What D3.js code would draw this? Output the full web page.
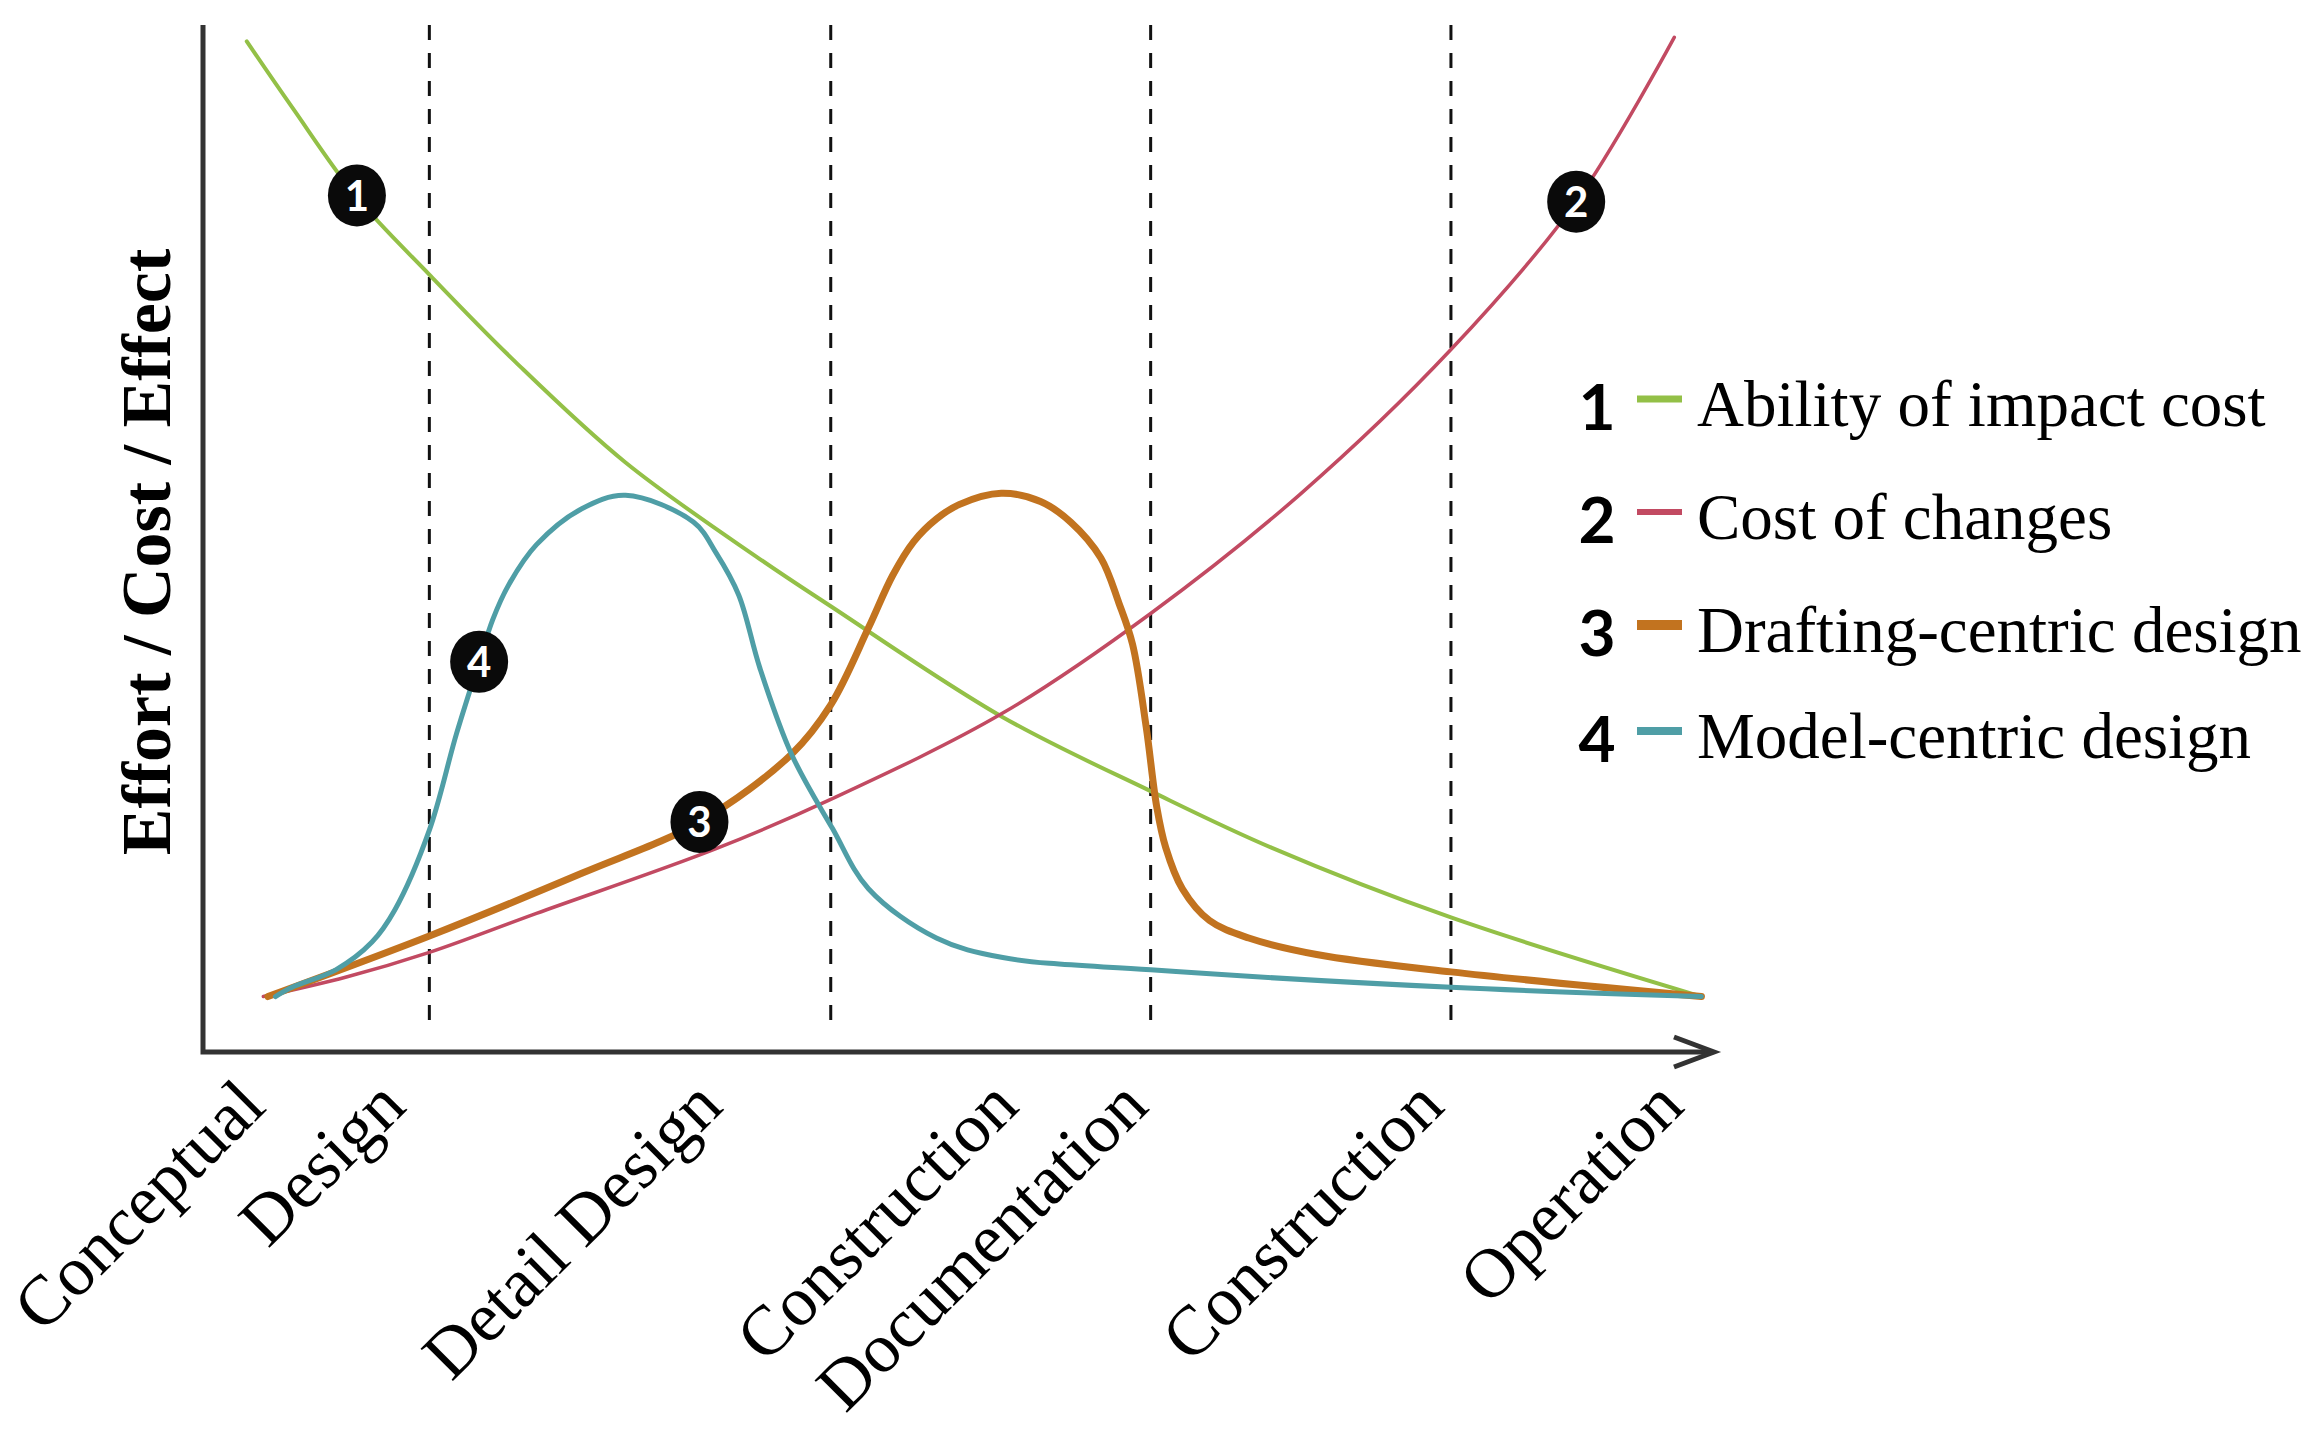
<!DOCTYPE html>
<html lang="en">
<head>
  <meta charset="UTF-8">
  <style>
    body { margin: 0; background: #fff; }
    svg { display: block; }
    .axis-line { stroke: #333; stroke-width: 5; fill: none; }
    .phase { stroke: #111; stroke-width: 3; stroke-dasharray: 15 13; }
    .curve { fill: none; stroke-linejoin: round; stroke-linecap: round; }
    .stage { font-family: "Liberation Serif", "Times New Roman", serif; font-size: 70px; fill: #000; }
    .ytitle { font-family: "Liberation Serif", "Times New Roman", serif; font-size: 70px; font-weight: bold; fill: #000; }
    .legend-num { font-family: Lato, "Open Sans", sans-serif; font-size: 64px; font-weight: bold; fill: #000; }
    .legend-text { font-family: "Liberation Serif", "Times New Roman", serif; font-size: 65px; fill: #000; }
    .marker-num { font-family: Lato, "Open Sans", sans-serif; font-size: 42px; font-weight: bold; fill: #fff; }
  </style>
</head>
<body>
  <svg id="chart" width="2321" height="1443"></svg>
  <script src="https://cdnjs.cloudflare.com/ajax/libs/d3/7.8.5/d3.min.js"></script>
  <script>
    // series (x: project timeline 0-100, y: effort 0-100)
    const abilityCurve = [
      [2.9, 98.4], [5.9, 92.0], [10.2, 83.2], [15.0, 75.7], [20.7, 67.2],
      [28.0, 57.4], [36.9, 48.0], [41.6, 43.4], [53.0, 32.6], [62.8, 25.4],
      [70.8, 19.9], [82.7, 13.1], [99.3, 5.4]
    ]
    const costCurve = [
      [4.0, 5.4], [9.5, 7.3], [15.0, 9.7], [22.1, 13.5], [34.0, 19.8],
      [41.6, 24.6], [53.0, 33.0], [62.8, 42.7], [72.7, 54.3], [82.7, 68.4],
      [91.0, 82.8], [97.5, 98.8]
    ]
    const draftingCurve = [
      [4.3, 5.4], [15.0, 11.3], [25.1, 17.4], [32.9, 22.4], [39.0, 29.0],
      [41.6, 33.8], [44.1, 41.3], [45.7, 46.4], [47.1, 49.7], [48.6, 51.9],
      [50.1, 53.3], [52.9, 54.4], [55.5, 53.6], [57.5, 51.6], [59.5, 48.1],
      [60.7, 43.7], [61.6, 39.7], [62.5, 31.7], [63.2, 23.9], [63.8, 19.9],
      [64.9, 15.9], [66.7, 12.8], [69.3, 11.1], [73.8, 9.5], [82.7, 7.8],
      [99.3, 5.4]
    ]
    const modelCurve = [
      [4.8, 5.4], [5.9, 6.3], [8.8, 8.0], [11.2, 10.7], [12.7, 13.8],
      [15.0, 21.6], [16.8, 31.0], [18.3, 38.0], [19.2, 42.1], [20.3, 45.6],
      [22.1, 49.4], [25.1, 52.9], [28.0, 54.2], [32.5, 51.6], [34.0, 48.6],
      [35.5, 44.5], [36.9, 37.4], [39.0, 29.0], [41.7, 21.8], [44.1, 15.9],
      [48.6, 11.1], [53.0, 9.2], [62.8, 8.0], [82.7, 6.3], [99.3, 5.4]
    ]

    const seriesIds = ['1', '2', '3', '4']
    const seriesNames = ['Ability of impact cost', 'Cost of changes', 'Drafting-centric design', 'Model-centric design']
    const seriesColors = ['#93c047', '#c24a62', '#c2731f', '#4f9ea6']

    // numbered badges sitting on each curve
    const markerX = [10.2, 91.0, 32.9, 18.3]
    const markerY = [83.4, 82.8, 22.4, 38.0]

    // phase boundaries and stage labels along the timeline
    const phaseBounds = [15.0, 41.6, 62.8, 82.7]
    const stageNames = ['Conceptual', 'Design', 'Detail Design', 'Construction', 'Documentation', 'Construction', 'Operation']
    const stageEnds = [4.3, 13.6, 34.6, 54.2, 62.8, 82.4, 98.3]

    const yTitle = 'Effort / Cost / Effect'

    const xScale = d3.scaleLinear().domain([0, 100]).range([203, 1712])
    const yScale = d3.scaleLinear().domain([0, 100]).range([1052, 25])

    const svg = d3.select('#chart')

    // Phase dividers
    svg.append('g')
      .selectAll('line')
      .data(phaseBounds)
      .enter().append('line')
        .attr('class', 'phase')
        .attr('x1', d => xScale(d)).attr('x2', d => xScale(d))
        .attr('y1', yScale(100)).attr('y2', yScale(2))

    // Axes
    const [x0, x1] = xScale.range()
    const [yb, yt] = yScale.range()
    svg.append('path')
      .attr('class', 'axis-line')
      .attr('d', `M${x0},${yt}V${yb}H${x1}`)
    svg.append('path')
      .attr('class', 'axis-line')
      .attr('stroke-width', 4)
      .attr('d', `M${x1 - 38},${yb - 15}L${x1 + 2},${yb}L${x1 - 38},${yb + 15}`)

    // Curves
    const line = d3.line()
      .x(d => xScale(d[0]))
      .y(d => yScale(d[1]))
      .curve(d3.curveCatmullRom.alpha(0.5))

    const curves = [abilityCurve, costCurve, draftingCurve, modelCurve]
    const widths = [4, 3.5, 7, 5]
    svg.append('g')
      .selectAll('path')
      .data(curves)
      .enter().append('path')
        .attr('class', 'curve')
        .attr('d', line)
        .attr('stroke', (d, i) => seriesColors[i])
        .attr('stroke-width', (d, i) => widths[i])

    // Numbered badges
    const badges = svg.append('g')
      .selectAll('g')
      .data(seriesIds)
      .enter().append('g')
        .attr('transform', (d, i) => `translate(${xScale(markerX[i])},${yScale(markerY[i])})`)
    badges.append('ellipse')
      .attr('rx', 29).attr('ry', 31)
      .attr('fill', '#0a0a0a')
    badges.append('text')
      .attr('class', 'marker-num')
      .attr('text-anchor', 'middle')
      .attr('dy', '0.36em')
      .text(d => d)

    // Stage labels
    svg.append('g')
      .selectAll('text')
      .data(stageNames)
      .enter().append('text')
        .attr('class', 'stage')
        .attr('text-anchor', 'end')
        .attr('transform', (d, i) => `translate(${xScale(stageEnds[i])},${yb + 57}) rotate(-45)`)
        .text(d => d)

    // Y title
    svg.append('text')
      .attr('class', 'ytitle')
      .attr('text-anchor', 'middle')
      .attr('transform', `translate(170,552) rotate(-90)`)
      .text(yTitle)

    // Legend
    const legendRows = [399, 512, 625, 731]
    const legend = svg.append('g')
      .selectAll('g')
      .data(seriesIds)
      .enter().append('g')
        .attr('transform', (d, i) => `translate(0,${legendRows[i]})`)
    legend.append('text')
      .attr('class', 'legend-num')
      .attr('x', 1597)
      .attr('y', 31)
      .attr('text-anchor', 'middle')
      .text(d => d)
    legend.append('line')
      .attr('x1', 1637).attr('x2', 1682)
      .attr('stroke', (d, i) => seriesColors[i])
      .attr('stroke-width', (d, i) => [7, 6, 10, 8][i])
    legend.append('text')
      .attr('class', 'legend-text')
      .attr('x', 1697)
      .attr('y', 27)
      .text((d, i) => seriesNames[i])
  </script>
</body>
</html>
